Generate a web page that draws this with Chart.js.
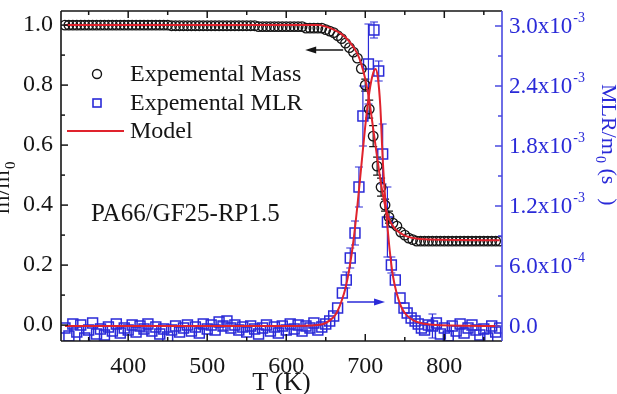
<!DOCTYPE html>
<html><head><meta charset="utf-8">
<script src="https://cdn.jsdelivr.net/npm/chart.js@4/dist/chart.umd.min.js"></script>
<style>html,body{margin:0;padding:0;background:#fff;overflow:hidden}#wrap{width:617px;height:394px;position:relative}</style>
</head><body><div id="wrap"><canvas id="c"></canvas></div>
<script>
// ---- data (T in K) ----
const massT = [320,325,330,335,340,345,350,355,360,365,370,375,380,385,390,395,400,405,410,415,420,425,430,435,440,445,450,
  455,460,465,470,475,480,485,490,495,500,505,510,515,520,525,530,535,540,545,550,555,560,
  565,570,575,580,585,590,595,600,605,610,615,620,
  625,630,635,640,645,
  650,655,660,665,670,675,680,685,690,695,700,705,710,715,720,725,730,735,740,745,750,755,760,
  765,770,775,780,785,790,795,800,805,810,815,820,825,830,835,840,845,850,855,860,865,870];
const massV = [1,1,1,1,1,1,1,1,1,1,1,1,1,1,1,1,1,1,1,1,1,1,1,1,1,1,1,
  0.998,0.998,0.998,0.998,0.998,0.998,0.998,0.998,0.998,0.998,0.998,0.998,0.998,0.998,0.998,0.998,0.998,0.998,0.998,0.998,0.998,0.998,
  0.995,0.995,0.995,0.995,0.995,0.995,0.995,0.995,0.995,0.995,0.995,0.995,
  0.99,0.99,0.99,0.99,0.99,
  0.985,0.98,0.975,0.965,0.955,0.94,0.925,0.91,0.89,0.855,0.80,0.72,0.63,0.53,0.46,0.40,0.36,0.34,0.33,0.31,0.30,0.29,0.285,
  0.28,0.28,0.28,0.28,0.28,0.28,0.28,0.28,0.28,0.28,0.28,0.28,0.28,0.28,0.28,0.28,0.28,0.28,0.28,0.28,0.28,0.28];
const massErrT = [700,705,710,715,720,725,730];
const massErrV = [0.02,0.03,0.035,0.03,0.03,0.02,0.02];

// MLR/m0 in units of 10^-3 s^-1
const mlrT = [320,325,330,335,340,345,350,355,360,365,
  370,375,380,385,390,395,400,405,410,415,
  420,425,430,435,440,445,450,455,460,465,
  470,475,480,485,490,495,500,505,510,515,
  520,525,530,535,540,545,550,555,560,565,
  570,575,580,585,590,595,600,605,610,615,
  620,625,630,635,640,645,650,655,660,665,
  671,676,681,687,692,697,704,711,717,722,
  728,733,738,744,749,753,758,763,767,771,
  775,780,785,790,795,800,805,810,815,820,
  825,830,835,840,845,850,855,860,865,870];
const mlrV = [-0.02,-0.10,0.02,-0.06,0.01,-0.12,-0.04,0.03,-0.08,-0.03,
  -0.09,-0.01,-0.05,0.02,-0.07,-0.02,-0.04,0.01,-0.06,0.00,
  -0.03,0.02,-0.05,-0.01,-0.08,-0.03,-0.11,-0.04,0.00,-0.06,
  -0.02,0.01,-0.05,-0.01,-0.07,0.02,-0.03,0.01,-0.04,0.04,
  0.00,0.05,-0.02,0.01,-0.04,-0.01,-0.06,0.00,-0.03,-0.08,
  -0.02,0.01,-0.05,-0.01,-0.07,0.00,-0.04,0.02,-0.03,0.01,
  -0.05,0.00,-0.02,0.03,-0.04,-0.01,0.02,0.05,0.10,0.18,
  0.33,0.46,0.68,0.93,1.39,2.10,2.62,2.96,2.55,1.72,
  1.04,0.61,0.46,0.28,0.18,0.13,0.08,0.05,0.02,-0.02,
  -0.04,0.01,0.00,0.03,-0.08,-0.02,-0.10,0.00,-0.05,0.02,
  -0.07,-0.02,0.01,-0.04,-0.09,-0.03,-0.12,0.00,-0.06,-0.02];
const mlrErrT = [420,520,676,681,687,692,697,704,711,717,722,728,733,785];
const mlrErrV = [0.03,0.04,0.08,0.10,0.12,0.20,0.30,0.40,0.08,0.10,0.30,0.35,0.08,0.12];

const modelMassT = [320,640,650,660,670,680,690,695,700,705,710,715,720,725,730,735,740,750,760,780,870];
const modelMassV = [1.0,1.0,0.995,0.985,0.97,0.945,0.905,0.87,0.82,0.75,0.655,0.56,0.47,0.40,0.355,0.33,0.315,0.298,0.29,0.285,0.283];
const modelMlrT = [320,600,640,650,660,665,670,675,680,685,690,695,700,705,710,713,716,719,722,725,728,731,735,740,745,750,760,770,790,870];
const modelMlrV = [0,0,0.01,0.03,0.09,0.15,0.25,0.38,0.58,0.85,1.2,1.6,2.0,2.33,2.53,2.57,2.48,2.2,1.68,1.3,1.0,0.75,0.5,0.32,0.2,0.13,0.06,0.03,0.01,0];

const xTicks = [400,500,600,700,800];
const xMinor = [350,450,550,650,750,850];
const yTicks = [0,0.2,0.4,0.6,0.8,1.0];
const yMinor = [0.1,0.3,0.5,0.7,0.9];
const y2Ticks = [0,0.6,1.2,1.8,2.4,3.0];
const y2Minor = [0.3,0.9,1.5,2.1,2.7];

const legendLabels = ['Expemental Mass','Expemental MLR','Model'];
const sampleLabel = 'PA66/GF25-RP1.5';
const massArrow = {from:672, to:624, at:0.917};
const mlrArrow = {from:677, to:725, at:0.24};

// ---- styles ----
const FONT = 'Liberation Serif';
const BLACK = '#151515';
const BLUE = '#2a2ad8';
const BLUE_AX = '#4a4ae0';
const RED = '#e0232d';

const pts = (xs, ys) => xs.map((t,i)=>({x:t, y:ys[i]}));

function fmtMlr(v){
  if (v === 0) return ['0.0',''];
  if (v < 1) return [(v*10).toFixed(1)+'x10','-4'];
  return [v.toFixed(1)+'x10','-3'];
}

const deco = {
  id:'deco',
  beforeDatasetsDraw(chart){
    const {ctx, scales:{x,y,y2}} = chart;
    ctx.save();
    const bar=(t,v,e,sc,col)=>{
      const xp=x.getPixelForValue(t), a=sc.getPixelForValue(v-e), b=sc.getPixelForValue(v+e);
      ctx.strokeStyle=col; ctx.lineWidth=1.2; ctx.beginPath();
      ctx.moveTo(xp,a); ctx.lineTo(xp,b);
      ctx.moveTo(xp-4,a); ctx.lineTo(xp+4,a);
      ctx.moveTo(xp-4,b); ctx.lineTo(xp+4,b);
      ctx.stroke();
    };
    massErrT.forEach((t,i)=>{const k=massT.indexOf(t); if(k>=0) bar(t,massV[k],massErrV[i],y,BLACK);});
    mlrErrT.forEach((t,i)=>{const k=mlrT.indexOf(t); if(k>=0) bar(t,mlrV[k],mlrErrV[i],y2,BLUE);});
    ctx.restore();
  },
  afterDraw(chart){
    const {ctx, chartArea:{left,right,top,bottom}, scales:{x,y,y2}} = chart;
    ctx.save();
    const line=(a,b,c,d)=>{ctx.beginPath();ctx.moveTo(a,b);ctx.lineTo(c,d);ctx.stroke();};
    // frame
    ctx.lineWidth=1.6; ctx.strokeStyle=BLACK;
    line(left,top,right,top); line(left,top,left,bottom); line(left,bottom,right,bottom);
    ctx.strokeStyle=BLUE_AX; line(right,top,right,bottom);
    // ticks
    ctx.strokeStyle=BLACK; ctx.lineWidth=1.5;
    xTicks.forEach(v=>{const p=x.getPixelForValue(v); line(p,bottom,p,bottom-7); line(p,top,p,top+7);});
    xMinor.forEach(v=>{const p=x.getPixelForValue(v); line(p,bottom,p,bottom-4); line(p,top,p,top+4);});
    yTicks.forEach(v=>{const p=y.getPixelForValue(v); line(left,p,left+7,p);});
    yMinor.forEach(v=>{const p=y.getPixelForValue(v); line(left,p,left+4,p);});
    ctx.strokeStyle=BLUE_AX;
    y2Ticks.forEach(v=>{const p=y2.getPixelForValue(v); line(right,p,right-7,p);});
    y2Minor.forEach(v=>{const p=y2.getPixelForValue(v); line(right,p,right-4,p);});
    // right tick labels with superscript
    ctx.fillStyle=BLUE; ctx.textAlign='left'; ctx.textBaseline='middle';
    y2Ticks.forEach(v=>{
      const p=y2.getPixelForValue(v); const [m,e]=fmtMlr(v);
      ctx.font='23px "'+FONT+'"'; ctx.fillText(m,509,p+1);
      const w=ctx.measureText(m).width;
      if(e){ctx.font='14px "'+FONT+'"'; ctx.fillText(e,509+w+1,p-8);}
    });
    // right axis title, rotated clockwise
    ctx.save(); ctx.translate(602,84); ctx.rotate(Math.PI/2);
    ctx.textBaseline='alphabetic'; ctx.fillStyle=BLUE;
    ctx.font='22px "'+FONT+'"'; ctx.fillText('MLR/m',0,0);
    let w=ctx.measureText('MLR/m').width;
    ctx.font='14px "'+FONT+'"'; ctx.fillText('0',w+1,6);
    w+=ctx.measureText('0').width+1;
    ctx.font='22px "'+FONT+'"'; ctx.fillText(' (s',w,0);
    w+=ctx.measureText(' (s').width;
    ctx.fillText(')',w+14,0);
    ctx.restore();
    // left axis title, rotated counter-clockwise
    ctx.save(); ctx.translate(9,214); ctx.rotate(-Math.PI/2);
    ctx.textBaseline='alphabetic'; ctx.fillStyle=BLACK;
    ctx.font='24px "'+FONT+'"'; ctx.fillText('m/m',0,0);
    w=ctx.measureText('m/m').width;
    ctx.font='15px "'+FONT+'"'; ctx.fillText('0',w+1,6);
    ctx.restore();
    // legend
    ctx.fillStyle=BLACK; ctx.textAlign='left'; ctx.textBaseline='middle';
    ctx.font='24px "'+FONT+'"';
    const rows=[74,103,131];
    legendLabels.forEach((t,i)=>ctx.fillText(t,130,rows[i]+1));
    ctx.lineWidth=1.4; ctx.strokeStyle=BLACK;
    ctx.beginPath(); ctx.arc(97,rows[0],4.5,0,Math.PI*2); ctx.stroke();
    ctx.strokeStyle=BLUE; ctx.lineWidth=1.6; ctx.strokeRect(93,rows[1]-4,8,8);
    ctx.strokeStyle=RED; ctx.lineWidth=1.8; line(67,rows[2],124,rows[2]);
    // sample label
    ctx.fillStyle=BLACK; ctx.font='25px "'+FONT+'"';
    ctx.fillText(sampleLabel,91,214);
    // arrows
    const arrow=(a,b,v,sc,col)=>{
      const x1=x.getPixelForValue(a), x2=x.getPixelForValue(b), yy=sc.getPixelForValue(v);
      const dir=Math.sign(x2-x1);
      ctx.strokeStyle=col; ctx.fillStyle=col; ctx.lineWidth=1.5;
      line(x1,yy,x2-dir*6,yy);
      ctx.beginPath(); ctx.moveTo(x2,yy); ctx.lineTo(x2-dir*11,yy-3.5); ctx.lineTo(x2-dir*11,yy+3.5); ctx.closePath(); ctx.fill();
    };
    arrow(massArrow.from,massArrow.to,massArrow.at,y,BLACK);
    arrow(mlrArrow.from,mlrArrow.to,mlrArrow.at,y2,BLUE);
    ctx.restore();
  }
};

Chart.defaults.font.family = FONT;
new Chart(document.getElementById('c'), {
  type:'scatter',
  data:{datasets:[
    {label:'Model mass', data:pts(modelMassT,modelMassV), yAxisID:'y', showLine:true, pointRadius:0, borderColor:RED, borderWidth:2, cubicInterpolationMode:'monotone'},
    {label:'Model MLR', data:pts(modelMlrT,modelMlrV), yAxisID:'y2', showLine:true, pointRadius:0, borderColor:RED, borderWidth:2, cubicInterpolationMode:'monotone'},
    {label:'Expemental Mass', data:pts(massT,massV), yAxisID:'y', pointStyle:'circle', pointRadius:4.8, borderColor:BLACK, borderWidth:1.3, backgroundColor:'rgba(0,0,0,0)'},
    {label:'Expemental MLR', data:pts(mlrT,mlrV), yAxisID:'y2', pointStyle:'rect', pointRadius:7, borderColor:BLUE, borderWidth:1.5, backgroundColor:'rgba(0,0,0,0)'}
  ]},
  options:{
    responsive:true, maintainAspectRatio:false, animation:false, devicePixelRatio:1,
    layout:{padding:{top:11,left:0,right:0,bottom:0}},
    plugins:{legend:{display:false}, tooltip:{enabled:false}},
    scales:{
      x:{type:'linear', position:'bottom', min:315, max:873,
        grid:{display:false}, border:{display:false},
        afterBuildTicks:s=>{s.ticks=xTicks.map(v=>({value:v}));},
        ticks:{color:BLACK, font:{size:24, family:FONT}, padding:3, maxRotation:0, autoSkip:false, callback:v=>String(v)},
        title:{display:true, text:'T (K)', color:BLACK, font:{size:26, family:FONT}, padding:{top:0,bottom:-5}},
        afterFit:s=>{s.height=53; s.paddingLeft=0; s.paddingRight=0;}},
      y:{type:'linear', position:'left', min:-0.053, max:1.047,
        grid:{display:false}, border:{display:false},
        afterBuildTicks:s=>{s.ticks=yTicks.map(v=>({value:v}));},
        ticks:{color:BLACK, font:{size:24, family:FONT}, padding:0, callback:v=>Number(v).toFixed(1)},
        afterFit:s=>{s.width=61; s.paddingTop=0; s.paddingBottom=0;}},
      y2:{type:'linear', position:'right', min:-0.15, max:3.15,
        grid:{display:false}, border:{display:false},
        afterBuildTicks:s=>{s.ticks=y2Ticks.map(v=>({value:v}));},
        ticks:{display:false},
        afterFit:s=>{s.width=115; s.paddingTop=0; s.paddingBottom=0;}}
    }
  },
  plugins:[deco]
});
</script></body></html>
